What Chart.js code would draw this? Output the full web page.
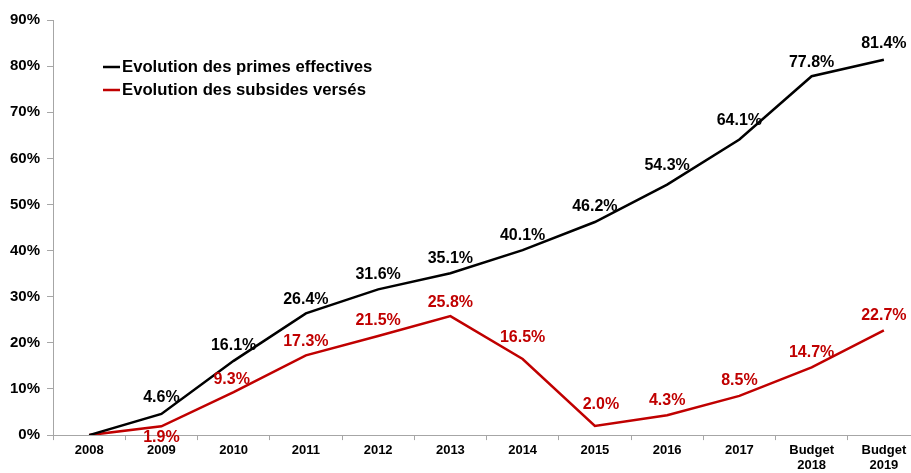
<!DOCTYPE html>
<html>
<head>
<meta charset="utf-8">
<script src="https://cdn.jsdelivr.net/npm/chart.js@4.4.1/dist/chart.umd.min.js"></script>
<style>
  html, body { margin: 0; padding: 0; background: #fff; overflow: hidden; }
  #wrap { position: relative; width: 920px; height: 473px; }
</style>
</head>
<body>
<div id="wrap"><canvas id="chart"></canvas></div>
<script>
// categories (x axis)
const years = ["2008", "2009", "2010", "2011", "2012", "2013", "2014", "2015", "2016", "2017", ["Budget", "2018"], ["Budget", "2019"]];

// values in %
const primes = [0, 4.6, 16.1, 26.4, 31.6, 35.1, 40.1, 46.2, 54.3, 64.1, 77.8, 81.4];
const subsides = [0, 1.9, 9.3, 17.3, 21.5, 25.8, 16.5, 2.0, 4.3, 8.5, 14.7, 22.7];

const yTicks = [0, 10, 20, 30, 40, 50, 60, 70, 80, 90];

// label placement (px, relative to the point)
const primesDy = [0, -16, -15, -14, -15, -15, -15, -15, -19, -19, -14, -16];
const subsidesDy = [0, 11, -13, -14, -15, -14, -21, -21, -15, -15, -15, -15];
const subsidesDx = [0, 0, -2, 0, 0, 0, 0, 6, 0, 0, 0, 0];

const BLACK = "#000000";
const RED = "#c00000";
const FONT = "Liberation Sans, Arial, sans-serif";

const valueLabels = {
    id: "valueLabels",
    afterDatasetsDraw(chart) {
        const ctx = chart.ctx;
        ctx.save();
        ctx.font = "bold 16px " + FONT;
        ctx.textAlign = "center";
        ctx.textBaseline = "middle";
        chart.data.datasets.forEach((ds, di) => {
            const meta = chart.getDatasetMeta(di);
            meta.data.forEach((pt, i) => {
                if (ds.data[i] === 0) {return ;}
                const dx = ds.labelDx ? ds.labelDx[i] : 0;
                const dy = ds.labelDy[i];
                ctx.fillStyle = ds.borderColor;
                ctx.fillText(ds.data[i].toFixed(1) + "%", pt.x + dx, pt.y + dy);
            });
        });
        ctx.restore();
    }
};

const legendBox = {
    id: "legendBox",
    afterDraw(chart) {
        const ctx = chart.ctx;
        ctx.save();
        ctx.font = "bold 16.7px " + FONT;
        ctx.textAlign = "left";
        ctx.textBaseline = "middle";
        chart.data.datasets.forEach((ds, di) => {
            const y = 67 + di * 23;
            ctx.strokeStyle = ds.borderColor;
            ctx.lineWidth = 2.5;
            ctx.beginPath();
            ctx.moveTo(103, y);
            ctx.lineTo(120, y);
            ctx.stroke();
            ctx.fillStyle = "#000";
            ctx.fillText(ds.label, 122, y);
        });
        ctx.restore();
    }
};

new Chart(document.getElementById("chart"), {
    type: "line",
    data: {
        labels: years,
        datasets: [
            {
                label: "Evolution des primes effectives",
                data: primes,
                borderColor: BLACK,
                backgroundColor: BLACK,
                borderWidth: 2.5,
                pointRadius: 0,
                tension: 0,
                labelDy: primesDy
            },
            {
                label: "Evolution des subsides versés",
                data: subsides,
                borderColor: RED,
                backgroundColor: RED,
                borderWidth: 2.5,
                pointRadius: 0,
                tension: 0,
                labelDy: subsidesDy,
                labelDx: subsidesDx
            }
        ]
    },
    options: {
        responsive: true,
        maintainAspectRatio: false,
        animation: false,
        layout: { padding: { left: 3, top: 20, right: 0, bottom: -3 } },
        plugins: {
            legend: { display: false },
            tooltip: { enabled: false }
        },
        scales: {
            x: {
                offset: true,
                grid: {
                    offset: true,
                    drawOnChartArea: false,
                    drawTicks: true,
                    tickLength: 5,
                    color: "#a6a6a6"
                },
                border: { color: "#a6a6a6", width: 1 },
                ticks: {
                    color: "#000",
                    font: { family: FONT, size: 13, weight: "bold", lineHeight: 1.15 },
                    padding: 3,
                    maxRotation: 0,
                    autoSkip: false
                }
            },
            y: {
                min: 0,
                max: 90,
                afterBuildTicks: axis => { axis.ticks = yTicks.map(v => ({ value: v })); },
                grid: {
                    drawOnChartArea: false,
                    tickLength: 6,
                    color: "#a6a6a6"
                },
                border: { color: "#a6a6a6", width: 1 },
                ticks: {
                    color: "#000",
                    font: { family: FONT, size: 15, weight: "bold" },
                    padding: 7,
                    callback: v => v + "%"
                }
            }
        }
    },
    plugins: [valueLabels, legendBox]
});
</script>
</body>
</html>
